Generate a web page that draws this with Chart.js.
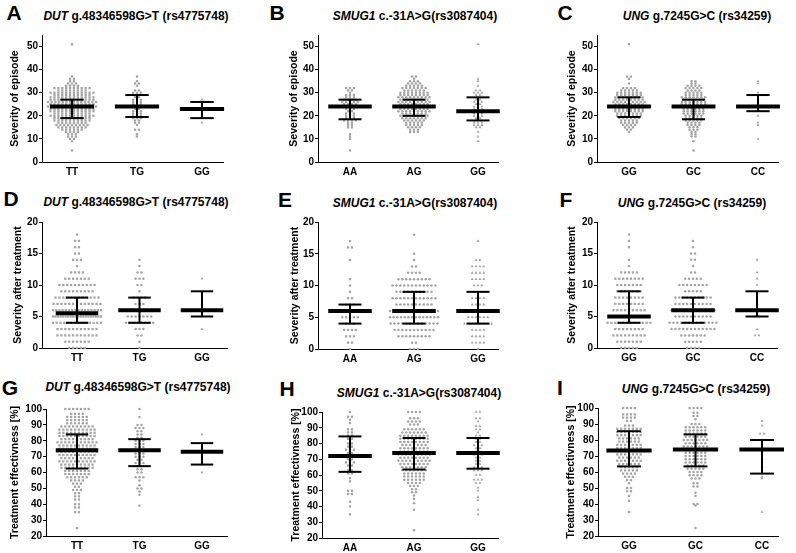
<!DOCTYPE html>
<html lang="en">
<head>
<meta charset="UTF-8">
<title>Genotype scatter plots</title>
<script src="https://cdn.jsdelivr.net/npm/chart.js@4.4.0/dist/chart.umd.min.js"></script>
<style>
    body { margin: 0; background: #fff; }
    #wrap { position: relative; width: 796px; height: 553px; overflow: hidden; font-family: "Liberation Sans", Arial, sans-serif; }
    canvas { position: absolute; }
    .letter { position: absolute; font-weight: bold; font-size: 21px; line-height: 1; transform: translate(-50%, -50%); }
    .ttl { position: absolute; font-weight: bold; font-size: 12px; line-height: 1; white-space: nowrap; transform: translate(-50%, -50%); }
</style>
</head>
<body>
<div id="wrap"></div>
<script>
    // categories (genotypes)
    const catDUT = ["TT", "TG", "GG"];
    const catSMUG = ["AA", "AG", "GG"];
    const catUNG = ["GG", "GC", "CC"];

    // y tick labels per row
    const ticksEpisode = [0, 10, 20, 30, 40, 50];
    const ticksAfter = [0, 5, 10, 15, 20];
    const ticksEffect = [20, 30, 40, 50, 60, 70, 80, 90, 100];

    // every group: [value, number of patients with that value]
    // A - severity of episode, DUT
    const A_TT = [[51,1],[37,1],[36,2],[35,2],[34,3],[33,4],[32,10],[31,8],[30,12],[29,10],[28,12],[27,12],[26,14],[25,12],[24,14],[23,12],[22,12],[21,10],[20,12],[19,10],[18,10],[17,8],[16,9],[15,8],[14,6],[13,4],[12,3],[11,3],[10,2],[9,1],[5,1]];
    const A_TG = [[37,1],[35,1],[34,2],[33,1],[31,2],[30,3],[29,2],[28,2],[27,3],[26,3],[25,3],[24,3],[23,2],[22,3],[21,3],[20,3],[19,3],[18,2],[17,2],[16,1],[14,2],[12,1],[11,1]];
    const A_GG = [[27,1],[26,2],[24,1],[23,2],[20,1],[17,1]];
    const A_med = [24, 24, 23], A_q1 = [19, 19.5, 19], A_q3 = [27, 29, 26];

    // B - severity of episode, SMUG1
    const B_AA = [[32,3],[31,2],[30,1],[29,3],[28,3],[27,4],[26,5],[25,4],[24,3],[23,3],[22,2],[21,3],[20,3],[19,3],[18,4],[17,2],[16,2],[15,2],[12,1],[11,1],[10,1],[5,1]];
    const B_AG = [[37,2],[36,1],[35,3],[34,4],[33,5],[32,7],[31,6],[30,8],[29,8],[28,9],[27,8],[26,9],[25,8],[24,9],[23,8],[22,9],[21,7],[20,8],[19,7],[18,6],[17,5],[16,5],[15,4],[14,3],[13,3]];
    const B_GG = [[51,1],[36,1],[35,1],[33,1],[31,2],[30,3],[29,2],[28,2],[27,2],[26,3],[25,2],[24,3],[23,3],[22,4],[21,3],[20,3],[19,2],[18,2],[17,3],[16,3],[15,2],[13,1],[11,1],[9,1]];
    const B_med = [24, 24, 22], B_q1 = [18.5, 20, 18], B_q3 = [27, 27, 28];

    // C - severity of episode, UNG
    const C_GG = [[51,1],[37,2],[36,1],[34,1],[32,4],[31,5],[30,7],[29,7],[28,8],[27,8],[26,9],[25,8],[24,9],[23,8],[22,8],[21,7],[20,7],[19,6],[18,5],[17,5],[16,4],[15,3],[14,2],[13,1]];
    const C_GC = [[35,2],[34,2],[33,4],[32,5],[31,4],[30,5],[29,5],[28,7],[27,6],[26,7],[25,7],[24,7],[23,6],[22,6],[21,6],[20,5],[19,5],[18,5],[17,4],[16,4],[15,3],[14,3],[13,2],[12,2],[11,2],[9,1],[5,1]];
    const C_CC = [[35,1],[34,1],[30,1],[29,1],[27,1],[26,1],[25,1],[24,1],[22,2],[20,1],[17,1],[16,1],[10,1]];
    const C_med = [24, 24, 24], C_q1 = [19.5, 18.5, 22], C_q3 = [28, 27, 29];

    // D - severity after treatment, DUT
    const D_TT = [[18,1],[17,2],[16,2],[15,2],[14,3],[13,1],[12,4],[11,7],[10,10],[9,9],[8,12],[7,13],[6,16],[5,20],[4,14],[3,11],[2,11],[1,7],[0,5]];
    const D_TG = [[14,1],[13,1],[12,2],[11,3],[10,2],[9,1],[8,4],[7,3],[6,4],[5,7],[4,8],[3,3],[2,2],[1,1],[0,1]];
    const D_GG = [[11,1],[7,1],[6,1],[5,1],[3,1]];
    const D_med = [5.5, 6, 6], D_q1 = [4, 4, 5], D_q3 = [8, 8, 9];

    // E - severity after treatment, SMUG1
    const E_AA = [[17,1],[16,2],[14,1],[11,1],[10,1],[9,1],[8,2],[7,3],[6,5],[5,5],[4,3],[3,4],[2,3],[1,2],[0,1]];
    const E_AG = [[18,1],[15,1],[14,1],[13,2],[12,4],[11,9],[10,12],[9,10],[8,12],[7,10],[6,14],[5,14],[4,13],[3,11],[2,9],[1,2],[0,3]];
    const E_GG = [[17,1],[14,2],[13,4],[12,4],[11,4],[10,3],[9,3],[8,4],[7,4],[6,4],[5,6],[4,8],[3,4],[2,4],[1,4],[0,1]];
    const E_med = [6, 6, 6], E_q1 = [4, 4, 4], E_q3 = [7, 9, 9];

    // F - severity after treatment, UNG
    const F_GG = [[18,1],[17,1],[16,1],[14,1],[13,1],[12,5],[11,8],[10,7],[9,7],[8,8],[7,8],[6,9],[5,10],[4,12],[3,8],[2,9],[1,7],[0,5]];
    const F_GC = [[17,1],[16,1],[15,2],[14,2],[13,1],[12,2],[11,5],[10,8],[9,5],[8,10],[7,10],[6,12],[5,10],[4,13],[3,12],[2,7],[1,5],[0,4]];
    const F_CC = [[14,1],[12,1],[11,1],[10,1],[8,1],[7,1],[6,2],[5,2],[3,1],[2,2]];
    const F_med = [5, 6, 6], F_q1 = [4, 4, 5], F_q3 = [9, 8, 9];

    // G - treatment effectiveness, DUT
    const G_TT = [[100,7],[97,4],[95,6],[93,6],[91,6],[89,9],[87,10],[85,10],[83,10],[81,9],[79,11],[77,10],[75,10],[73,11],[71,10],[69,9],[67,10],[65,9],[63,9],[61,7],[59,7],[57,6],[55,4],[53,3],[51,2],[49,3],[47,2],[45,2],[43,2],[40,2],[38,2],[35,2],[25,1]];
    const G_TG = [[100,1],[95,1],[90,2],[88,3],[86,2],[84,2],[82,2],[80,3],[78,3],[76,3],[74,4],[72,3],[70,3],[68,2],[66,3],[64,2],[62,2],[60,2],[57,3],[55,1],[52,1],[50,2],[48,1],[46,1],[39,1]];
    const G_GG = [[84,1],[75,1],[73,1],[66,1],[60,1]];
    const G_med = [74, 74, 73], G_q1 = [62.5, 64, 65], G_q3 = [84, 81, 78.5];

    // H - treatment effectiveness, SMUG1
    const H_AA = [[100,1],[97,2],[95,1],[93,1],[89,2],[87,2],[85,2],[83,2],[80,2],[78,2],[76,3],[74,2],[72,3],[70,2],[68,3],[66,2],[63,2],[61,2],[58,1],[56,1],[50,2],[48,2],[43,1],[40,1],[35,1]];
    const H_AG = [[100,4],[96,3],[94,4],[92,3],[89,6],[87,7],[85,8],[83,8],[81,8],[79,7],[77,8],[75,8],[73,9],[71,8],[69,9],[67,8],[65,7],[63,7],[61,6],[59,6],[57,6],[55,4],[53,3],[51,2],[49,2],[47,1],[45,1],[42,1],[38,1],[25,1]];
    const H_GG = [[100,2],[96,2],[94,1],[91,2],[89,2],[87,1],[85,2],[83,2],[81,2],[79,3],[77,2],[75,2],[73,3],[71,2],[69,2],[67,2],[65,3],[63,3],[60,2],[57,3],[55,2],[52,1],[50,1],[46,1],[44,1],[38,1],[35,1]];
    const H_med = [72, 74, 74], H_q1 = [62, 63.5, 64], H_q3 = [84.5, 83.5, 83.5];

    // I - treatment effectiveness, UNG
    const I_GG = [[100,4],[96,4],[94,4],[92,2],[89,3],[87,7],[85,7],[83,7],[81,6],[79,6],[77,7],[75,7],[73,7],[71,7],[69,6],[67,7],[65,6],[63,5],[61,5],[59,4],[57,3],[55,2],[53,1],[50,2],[48,2],[45,1],[42,1],[35,1]];
    const I_GC = [[100,4],[97,2],[95,2],[93,1],[90,3],[88,6],[86,6],[84,6],[82,6],[80,7],[78,6],[76,7],[74,7],[72,6],[70,6],[68,6],[66,6],[64,5],[62,5],[60,4],[58,4],[56,3],[53,2],[51,2],[47,1],[45,1],[40,2],[39,1],[25,1]];
    const I_CC = [[92,1],[89,1],[84,2],[80,1],[77,1],[74,1],[73,1],[68,1],[63,1],[57,1],[56,1],[35,1]];
    const I_med = [73.5, 74, 74], I_q1 = [63.5, 63.5, 59], I_q3 = [85.5, 83.5, 80];

    const DUT = ["DUT", " g.48346598G>T (rs4775748)"];
    const SMUG = ["SMUG1", " c.-31A>G(rs3087404)"];
    const UNG = ["UNG", " g.7245G>C (rs34259)"];

    const rowEpisode = {yTitle: "Severity of episode", ticks: ticksEpisode, ymin: 0, ymax: 55};
    const rowAfter = {yTitle: "Severity after treatment", ticks: ticksAfter, ymin: 0, ymax: 20};
    const rowEffect = {yTitle: "Treatment effectivness [%]", ticks: ticksEffect, ymin: 20, ymax: 100};

    // layout in page pixels: axis x, plot right, plot top/bottom, first/last category x, axis title x, title & letter centres
    const panels = [
        {letter: "A", name: DUT, cats: catDUT, groups: [A_TT, A_TG, A_GG], med: A_med, q1: A_q1, q3: A_q3, row: rowEpisode,
            axisX: 42, right: 223, top: 35, bottom: 162, c1: 72, c3: 202, atx: 15, tx: 136, ty: 16, lx: 14, ly: 12},
        {letter: "B", name: SMUG, cats: catSMUG, groups: [B_AA, B_AG, B_GG], med: B_med, q1: B_q1, q3: B_q3, row: rowEpisode,
            axisX: 318, right: 498, top: 35, bottom: 162, c1: 350, c3: 478, atx: 294, tx: 415, ty: 16, lx: 277, ly: 12},
        {letter: "C", name: UNG, cats: catUNG, groups: [C_GG, C_GC, C_CC], med: C_med, q1: C_q1, q3: C_q3, row: rowEpisode,
            axisX: 597, right: 778, top: 35, bottom: 162, c1: 629, c3: 758, atx: 572, tx: 697, ty: 16, lx: 565, ly: 12},
        {letter: "D", name: DUT, cats: catDUT, groups: [D_TT, D_TG, D_GG], med: D_med, q1: D_q1, q3: D_q3, row: rowAfter,
            axisX: 42, right: 227, top: 222, bottom: 348, c1: 77, c3: 202, atx: 18, tx: 136, ty: 202, lx: 11, ly: 198},
        {letter: "E", name: SMUG, cats: catSMUG, groups: [E_AA, E_AG, E_GG], med: E_med, q1: E_q1, q3: E_q3, row: rowAfter,
            axisX: 318, right: 498, top: 222, bottom: 349, c1: 350, c3: 478, atx: 295, tx: 415, ty: 203, lx: 285, ly: 199},
        {letter: "F", name: UNG, cats: catUNG, groups: [F_GG, F_GC, F_CC], med: F_med, q1: F_q1, q3: F_q3, row: rowAfter,
            axisX: 597, right: 777, top: 222, bottom: 348, c1: 629, c3: 757, atx: 572, tx: 692, ty: 203, lx: 566, ly: 199},
        {letter: "G", name: DUT, cats: catDUT, groups: [G_TT, G_TG, G_GG], med: G_med, q1: G_q1, q3: G_q3, row: rowEffect,
            axisX: 46, right: 227, top: 409, bottom: 536, c1: 77, c3: 202, atx: 15, tx: 138, ty: 387, lx: 10, ly: 387},
        {letter: "H", name: SMUG, cats: catSMUG, groups: [H_AA, H_AG, H_GG], med: H_med, q1: H_q1, q3: H_q3, row: rowEffect,
            axisX: 322, right: 498, top: 412, bottom: 538, c1: 350, c3: 478, atx: 296, tx: 419, ty: 393, lx: 287, ly: 388},
        {letter: "I", name: UNG, cats: catUNG, groups: [I_GG, I_GC, I_CC], med: I_med, q1: I_q1, q3: I_q3, row: rowEffect,
            axisX: 598, right: 778, top: 408, bottom: 536, c1: 629, c3: 762, atx: 571, tx: 696, ty: 389, lx: 560, ly: 387}
    ];

    const POINT = "#a3a3a3";
    const STYLES = [
        {pointStyle: "rect", pointRadius: 1.6},
        {pointStyle: "circle", pointRadius: 1.25},
        {pointStyle: "triangle", pointRadius: 1.7}
    ];
    const GAP_PX = 3.9;   // gap between neighbours in a row, pixels
    const MAXW_PX = 48;   // widest a row may get, pixels

    Chart.defaults.font.family = '"Liberation Sans", Arial, sans-serif';
    Chart.defaults.font.weight = "bold";
    Chart.defaults.font.size = 10;
    Chart.defaults.color = "#000";

    // spread points that share a value side by side around the category
    function swarm(pairs, center, unit) {
        let dx = GAP_PX / unit;
        let maxw = MAXW_PX / unit;
        let pts = [];
        pairs.forEach(function (p) {
            let n = p[1];
            let step = n > 1 ? Math.min(dx, maxw / (n - 1)) : 0;
            for (let k = 0; k < n; k++) {
                pts.push({x: center + (k - (n - 1) / 2) * step, y: p[0]});
            }
        });
        return pts;
    }

    function seg(x1, y1, x2, y2, width) {
        return {
            type: "scatter", showLine: true, order: 0, clip: false,
            data: [{x: x1, y: y1}, {x: x2, y: y2}],
            borderColor: "#000", borderWidth: width, borderCapStyle: "butt",
            pointRadius: 0
        };
    }

    const wrap = document.getElementById("wrap");

    panels.forEach(function (p) {
        let unit = (p.c3 - p.c1) / 2;
        let xmin = 1 - (p.c1 - p.axisX) / unit;
        let xmax = 3 + (p.right - p.c3) / unit;
        let left = p.atx - 10;
        let top = p.top - 8;
        let yW = p.axisX - left;
        let W = p.right + 6 - left;
        let H = p.bottom - top + 20;

        let canvas = document.createElement("canvas");
        canvas.width = W;
        canvas.height = H;
        canvas.style.left = left + "px";
        canvas.style.top = top + "px";
        wrap.appendChild(canvas);

        let letter = document.createElement("div");
        letter.className = "letter";
        letter.textContent = p.letter;
        letter.style.left = p.lx + "px";
        letter.style.top = p.ly + "px";
        wrap.appendChild(letter);

        let ttl = document.createElement("div");
        ttl.className = "ttl";
        let gene = document.createElement("i");
        gene.textContent = p.name[0];
        ttl.appendChild(gene);
        ttl.appendChild(document.createTextNode(p.name[1]));
        ttl.style.left = p.tx + "px";
        ttl.style.top = p.ty + "px";
        wrap.appendChild(ttl);

        let datasets = [];
        for (let i = 0; i < 3; i++) {
            let c = i + 1;
            datasets.push(seg(c - 0.34, p.med[i], c + 0.34, p.med[i], 4));
            datasets.push(seg(c - 0.18, p.q1[i], c + 0.18, p.q1[i], 2));
            datasets.push(seg(c - 0.18, p.q3[i], c + 0.18, p.q3[i], 2));
            datasets.push(seg(c, p.q1[i], c, p.q3[i], 2));
        }
        for (let i = 0; i < 3; i++) {
            datasets.push({
                type: "scatter", order: 1, clip: false,
                data: swarm(p.groups[i], i + 1, unit),
                backgroundColor: POINT, borderWidth: 0,
                pointStyle: STYLES[i].pointStyle,
                pointRadius: STYLES[i].pointRadius
            });
        }

        new Chart(canvas, {
            type: "scatter",
            data: {datasets: datasets},
            options: {
                responsive: false,
                animation: false,
                events: [],
                layout: {padding: {left: 0, top: 8, right: 6, bottom: 0}},
                plugins: {legend: {display: false}, tooltip: {enabled: false}},
                scales: {
                    x: {
                        type: "linear", min: xmin, max: xmax,
                        border: {display: true, color: "#000", width: 1},
                        grid: {display: false, drawTicks: false},
                        afterBuildTicks: function (scale) {
                            scale.ticks = [{value: 1}, {value: 2}, {value: 3}];
                        },
                        afterFit: function (scale) { scale.height = 20; },
                        ticks: {
                            padding: 4, maxRotation: 0, autoSkip: false,
                            font: {size: 10, weight: "bold"},
                            callback: function (v) { return p.cats[Math.round(v) - 1]; }
                        }
                    },
                    y: {
                        type: "linear", min: p.row.ymin, max: p.row.ymax,
                        border: {display: true, color: "#000", width: 1},
                        grid: {drawOnChartArea: false, drawTicks: true, tickLength: 3, color: "#000", tickColor: "#000"},
                        afterBuildTicks: function (scale) {
                            scale.ticks = p.row.ticks.map(function (v) { return {value: v}; });
                        },
                        afterFit: function (scale) { scale.width = yW; },
                        ticks: {padding: 1, font: {size: 10, weight: "bold"}},
                        title: {display: true, text: p.row.yTitle, padding: {top: 4, bottom: 0}, font: {size: 10.5, weight: "bold"}}
                    }
                }
            }
        });
    });
</script>
</body>
</html>
